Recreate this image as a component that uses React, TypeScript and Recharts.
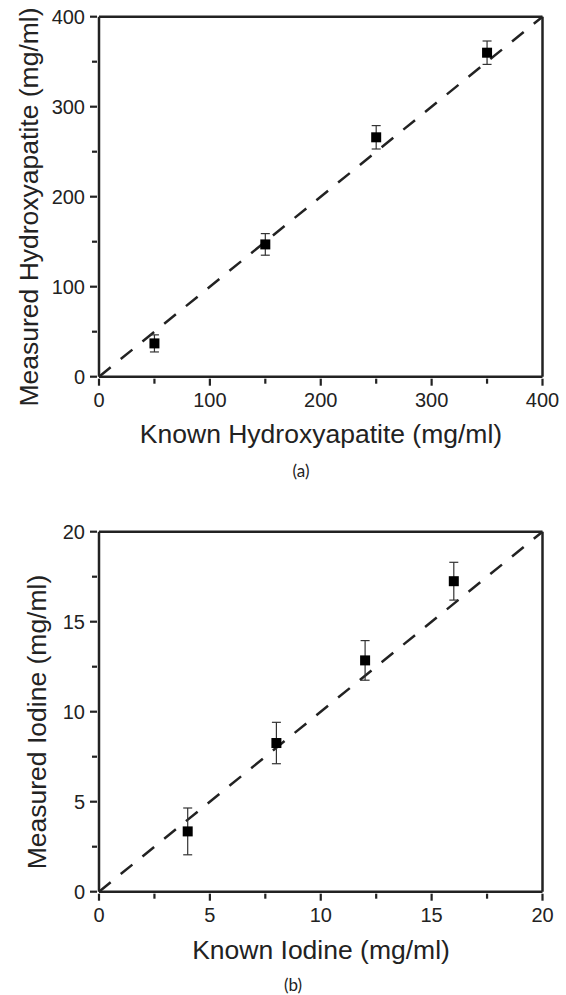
import React from 'react';
import { ScatterChart, Scatter, XAxis, YAxis, ErrorBar, ReferenceLine } from 'recharts';

// (a) hydroxyapatite
const hapKnown = [50, 150, 250, 350];
const hapMeasured = [37, 147, 266, 360];
const hapError = [9.5, 12, 13, 13];
const hapTicks = [0, 50, 100, 150, 200, 250, 300, 350, 400];

// (b) iodine
const iodKnown = [4, 8, 12, 16];
const iodMeasured = [3.35, 8.26, 12.85, 17.25];
const iodError = [1.3, 1.15, 1.1, 1.05];
const iodTicks = [0, 2.5, 5, 7.5, 10, 12.5, 15, 17.5, 20];

const FONT = '"Liberation Sans", Arial, sans-serif';
const INK = '#222';

// draws the tick mark and, on major ticks, the label
const makeXTick = (step: number) => ({ x, y, payload }: any) => {
  const major = payload.value % step === 0;
  return (
    <g>
      <rect x={x - 1.1} y={y - 6} width={2.2} height={major ? 7 : 5} fill={INK} />
      {major && (
        <text x={x} y={y + 22} textAnchor="middle" fontFamily={FONT} fontSize={20} fill={INK}>
          {payload.value}
        </text>
      )}
    </g>
  );
};

const makeYTick = (step: number) => ({ x, y, payload }: any) => {
  const major = payload.value % step === 0;
  return (
    <g>
      <rect x={x + 6 - (major ? 7 : 5)} y={y - 1.1} width={major ? 7 : 5} height={2.2} fill={INK} />
      {major && (
        <text x={x - 6} y={y + 7} textAnchor="end" fontFamily={FONT} fontSize={20} fill={INK}>
          {payload.value}
        </text>
      )}
    </g>
  );
};

const Square = ({ cx, cy }: any) => <rect x={cx - 5} y={cy - 5} width={10} height={10} fill="#000" />;

interface PanelProps {
  known: number[];
  measured: number[];
  err: number[];
  ticks: number[];
  step: number;
  height: number;
  marginTop: number;
  xAxisHeight: number;
}

const Panel = ({ known, measured, err, ticks, step, height, marginTop, xAxisHeight }: PanelProps) => {
  const data = known.map((k, i) => ({ known: k, measured: measured[i], err: err[i] }));
  const max = ticks[ticks.length - 1];
  return (
    <ScatterChart width={566} height={height} margin={{ top: marginTop, right: 23.5, left: 0, bottom: 0 }}>
      <XAxis
        type="number"
        dataKey="known"
        domain={[0, max]}
        ticks={ticks}
        interval={0}
        height={xAxisHeight}
        tickSize={6}
        tickLine={false}
        axisLine={{ stroke: INK, strokeWidth: 2.5 }}
        tick={makeXTick(step)}
      />
      <YAxis
        type="number"
        dataKey="measured"
        domain={[0, max]}
        ticks={ticks}
        interval={0}
        width={99}
        tickSize={6}
        tickLine={false}
        axisLine={{ stroke: INK, strokeWidth: 2.5 }}
        tick={makeYTick(step)}
      />
      <ReferenceLine y={max} stroke={INK} strokeWidth={2.5} />
      <ReferenceLine x={max} stroke={INK} strokeWidth={2.5} />
      <ReferenceLine
        segment={[{ x: 0, y: 0 }, { x: max, y: max }]}
        stroke={INK}
        strokeWidth={2.5}
        strokeDasharray="15 13"
      />
      <Scatter data={data} shape={Square} isAnimationActive={false}>
        <ErrorBar dataKey="err" direction="y" width={4.5} stroke="#333" strokeWidth={1.2} />
      </Scatter>
    </ScatterChart>
  );
};

const rotated = (x: number, y: number) => `rotate(-90, ${x}, ${y})`;

export default function App() {
  return (
    <div style={{ position: 'absolute', left: 0, top: 0, width: 566, height: 995 }}>
      <Panel known={hapKnown} measured={hapMeasured} err={hapError} ticks={hapTicks} step={100}
        height={495} marginTop={16.7} xAxisHeight={118.3} />
      <Panel known={iodKnown} measured={iodMeasured} err={iodError} ticks={iodTicks} step={5}
        height={500} marginTop={36.7} xAxisHeight={103.3} />
      <svg width={566} height={995} style={{ position: 'absolute', left: 0, top: 0, pointerEvents: 'none' }}>
        <g fontFamily={FONT} fontSize={26.5} fill={INK} textAnchor="middle">
          <text x={38} y={207} transform={rotated(38, 207)}>Measured Hydroxyapatite (mg/ml)</text>
          <text x={321} y={443}>Known Hydroxyapatite (mg/ml)</text>
          <text x={46} y={722} transform={rotated(46, 722)}>Measured Iodine (mg/ml)</text>
          <text x={321} y={959}>Known Iodine (mg/ml)</text>
        </g>
        <g fontFamily="Lato, 'Open Sans', sans-serif" fontSize={17} fill={INK} textAnchor="middle">
          <text x={301} y={477}>(a)</text>
          <text x={293} y={991}>(b)</text>
        </g>
      </svg>
    </div>
  );
}
